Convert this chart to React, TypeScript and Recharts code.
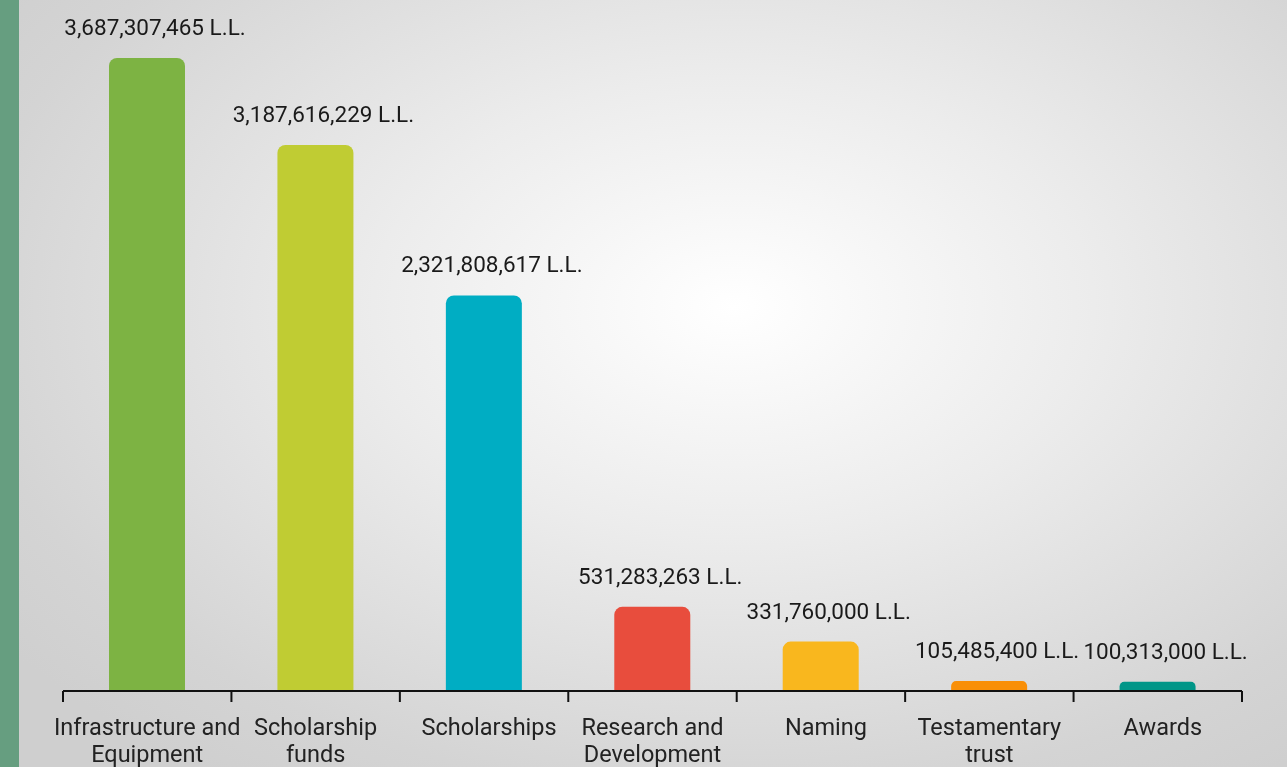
import React from "react";
import { BarChart, Bar, XAxis, YAxis, Cell, LabelList } from "recharts";

const categories = [
  "Infrastructure and Equipment",
  "Scholarship funds",
  "Scholarships",
  "Research and Development",
  "Naming",
  "Testamentary trust",
  "Awards",
];
const tickLines: string[][] = [
  ["Infrastructure and", "Equipment"],
  ["Scholarship", "funds"],
  ["Scholarships"],
  ["Research and", "Development"],
  ["Naming"],
  ["Testamentary", "trust"],
  ["Awards"],
];
const values = [3687307465, 3187616229, 2321808617, 531283263, 331760000, 105485400, 100313000];
const colors = ["#7db343", "#c0cc33", "#00adc3", "#e84d3d", "#f9b71e", "#f98f07", "#009688"];
const valueDomain = [47500000, 3687307465];

const data = categories.map((c, i) => ({ name: c, idx: i, value: values[i] }));

const fmt = (v: number) => v.toLocaleString("en-US") + " L.L.";

const W = 1287;
const H = 767;
const M = { top: 58, right: 45, bottom: 0, left: 63 };
const BAND = (W - M.left - M.right) / categories.length;

const Tick = (props: any) => {
  const { x, y, index } = props;
  const lines = tickLines[index] || [];
  const left = x - BAND / 2;
  const right = x + BAND / 2;
  const dx = lines.length === 1 ? 5 : 0;
  return (
    <g>
      <line x1={left} x2={left} y1={y} y2={y + 11} stroke="#111" strokeWidth={2} />
      {index === categories.length - 1 && (
        <line x1={right} x2={right} y1={y} y2={y + 11} stroke="#111" strokeWidth={2} />
      )}
      {lines.map((l, i) => (
        <text
          key={i}
          x={x + dx}
          y={y + 44 + i * 27}
          textAnchor="middle"
          fontFamily="Roboto"
          fontSize={23.5}
          fill="#222"
        >
          {l}
        </text>
      ))}
    </g>
  );
};

const ValueLabel = (props: any) => {
  const { x, y, width, value } = props;
  return (
    <text
      x={x + width / 2 + 8}
      y={y - 23}
      textAnchor="middle"
      fontFamily="Roboto"
      fontSize={22.5}
      fill="#1a1a1a"
    >
      {fmt(Number(value))}
    </text>
  );
};

export default function App() {
  return (
    <div
      style={{
        position: "fixed",
        left: 0,
        top: 0,
        width: W,
        height: H,
        background:
          "radial-gradient(ellipse 70% 75% at 57% 40%, #ffffff 0%, #ececec 40%, #d4d4d4 85%, #cfcfcf 100%)",
        overflow: "hidden",
      }}
    >
      <div
        style={{ position: "absolute", left: 0, top: 0, width: 19, height: H, background: "#669e80" }}
      />
      <BarChart width={W} height={H} data={data} margin={M} barSize={76}>
        <YAxis hide domain={valueDomain} />
        <XAxis
          dataKey="name"
          interval={0}
          axisLine={{ stroke: "#111", strokeWidth: 2 }}
          tickLine={false}
          tickSize={0}
          tickMargin={0}
          tick={<Tick />}
          height={76}
        />
        <Bar dataKey="value" isAnimationActive={false} radius={[8, 8, 0, 0]}>
          {data.map((d, i) => (
            <Cell key={i} fill={colors[i]} />
          ))}
          <LabelList dataKey="value" content={<ValueLabel />} />
        </Bar>
      </BarChart>
    </div>
  );
}
